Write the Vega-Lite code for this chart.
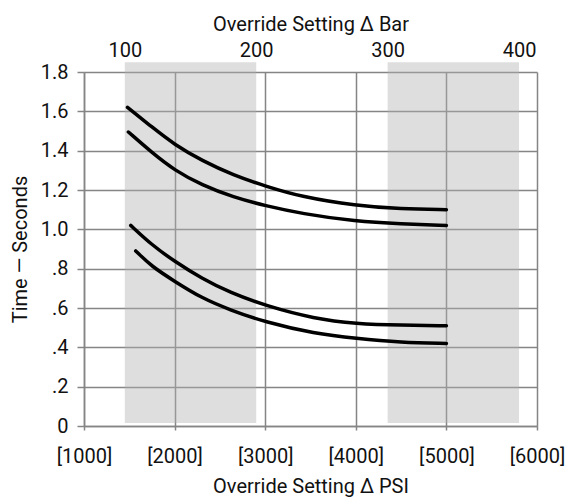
{
  "$schema": "https://vega.github.io/schema/vega-lite/v6.json",
  "width": 453,
  "height": 354,
  "autosize": {"type": "none"},
  "padding": {"left": 84, "top": 72, "right": 49, "bottom": 71},
  "background": "white",
  "config": {
    "view": {"stroke": null},
    "font": "Roboto",
    "axis": {
      "labelFont": "Roboto",
      "titleFont": "Roboto",
      "labelFontSize": 20,
      "titleFontSize": 20,
      "titleFontWeight": "normal",
      "labelColor": "#111111",
      "titleColor": "#111111",
      "labelOverlap": false,
      "labelFlush": false,
      "gridColor": "#858585",
      "gridWidth": 1.5,
      "gridOpacity": 1,
      "domainColor": "#858585",
      "domainWidth": 1.5,
      "tickColor": "#858585",
      "tickWidth": 1.5
    }
  },
  "datasets": {
    "bands": [
      {"bar_start": 100, "bar_end": 200},
      {"bar_start": 300, "bar_end": 400}
    ],
    "curves": [
      {"curve": "A", "psi": 1480, "time": 1.62},
      {"curve": "A", "psi": 1750, "time": 1.52},
      {"curve": "A", "psi": 2000, "time": 1.43},
      {"curve": "A", "psi": 2300, "time": 1.35},
      {"curve": "A", "psi": 2650, "time": 1.275},
      {"curve": "A", "psi": 3000, "time": 1.22},
      {"curve": "A", "psi": 3400, "time": 1.165},
      {"curve": "A", "psi": 4000, "time": 1.12},
      {"curve": "A", "psi": 4500, "time": 1.103},
      {"curve": "A", "psi": 5000, "time": 1.1},
      {"curve": "B", "psi": 1490, "time": 1.495},
      {"curve": "B", "psi": 1750, "time": 1.39},
      {"curve": "B", "psi": 2000, "time": 1.3},
      {"curve": "B", "psi": 2300, "time": 1.225},
      {"curve": "B", "psi": 2650, "time": 1.163},
      {"curve": "B", "psi": 3000, "time": 1.12},
      {"curve": "B", "psi": 3400, "time": 1.08},
      {"curve": "B", "psi": 4000, "time": 1.04},
      {"curve": "B", "psi": 4500, "time": 1.027},
      {"curve": "B", "psi": 5000, "time": 1.02},
      {"curve": "C", "psi": 1516, "time": 1.02},
      {"curve": "C", "psi": 1750, "time": 0.92},
      {"curve": "C", "psi": 2000, "time": 0.837},
      {"curve": "C", "psi": 2300, "time": 0.75},
      {"curve": "C", "psi": 2613, "time": 0.678},
      {"curve": "C", "psi": 3000, "time": 0.612},
      {"curve": "C", "psi": 3545, "time": 0.545},
      {"curve": "C", "psi": 4000, "time": 0.52},
      {"curve": "C", "psi": 4500, "time": 0.512},
      {"curve": "C", "psi": 5000, "time": 0.51},
      {"curve": "D", "psi": 1571, "time": 0.89},
      {"curve": "D", "psi": 1750, "time": 0.81},
      {"curve": "D", "psi": 2000, "time": 0.736},
      {"curve": "D", "psi": 2300, "time": 0.65},
      {"curve": "D", "psi": 2613, "time": 0.59},
      {"curve": "D", "psi": 3000, "time": 0.528},
      {"curve": "D", "psi": 3545, "time": 0.47},
      {"curve": "D", "psi": 4000, "time": 0.445},
      {"curve": "D", "psi": 4500, "time": 0.425},
      {"curve": "D", "psi": 5000, "time": 0.42}
    ]
  },
  "layer": [
    {
      "data": {"name": "bands"},
      "mark": {"type": "rect", "color": "#b0b0b0", "opacity": 0.42},
      "encoding": {
        "x": {
          "field": "bar_start",
          "type": "quantitative",
          "scale": {"domain": [68.947, 413.686], "nice": false, "zero": false},
          "axis": {
            "orient": "top",
            "values": [100, 200, 300, 400],
            "title": "Override Setting Δ Bar",
            "grid": false,
            "ticks": false,
            "domain": false,
            "labelPadding": 12,
            "titlePadding": 6
          }
        },
        "x2": {"field": "bar_end"},
        "y": {
          "datum": 0.015,
          "type": "quantitative",
          "scale": {"domain": [0, 1.8], "nice": false, "zero": true},
          "axis": {
            "values": [0, 0.2, 0.4, 0.6, 0.8, 1.0, 1.2, 1.4, 1.6, 1.8],
            "labelExpr": "datum.value == 0 ? '0' : (datum.value < 0.99 ? replace(format(datum.value, '.1f'), '0.', '.') : format(datum.value, '.1f'))",
            "title": "Time — Seconds",
            "grid": true,
            "tickSize": 7,
            "labelPadding": 9,
            "titlePadding": 10
          }
        },
        "y2": {"datum": 1.85}
      }
    },
    {
      "data": {"name": "curves"},
      "mark": {"type": "line", "color": "#000000", "strokeWidth": 3.5, "interpolate": "basis", "strokeCap": "round"},
      "encoding": {
        "x": {
          "field": "psi",
          "type": "quantitative",
          "scale": {"domain": [1000, 6000], "nice": false, "zero": false},
          "axis": {
            "orient": "bottom",
            "values": [1000, 2000, 3000, 4000, 5000, 6000],
            "labelExpr": "'[' + datum.value + ']'",
            "title": "Override Setting Δ PSI",
            "grid": true,
            "tickSize": 4,
            "labelPadding": 16,
            "titlePadding": 10
          }
        },
        "y": {
          "field": "time",
          "type": "quantitative",
          "scale": {"domain": [0, 1.8], "nice": false, "zero": true},
          "axis": {
            "values": [0, 0.2, 0.4, 0.6, 0.8, 1.0, 1.2, 1.4, 1.6, 1.8],
            "labelExpr": "datum.value == 0 ? '0' : (datum.value < 0.99 ? replace(format(datum.value, '.1f'), '0.', '.') : format(datum.value, '.1f'))",
            "title": "Time — Seconds",
            "grid": true,
            "tickSize": 7,
            "labelPadding": 9,
            "titlePadding": 10
          }
        },
        "detail": {"field": "curve"}
      }
    }
  ],
  "resolve": {"scale": {"x": "independent"}, "axis": {"x": "independent"}}
}
